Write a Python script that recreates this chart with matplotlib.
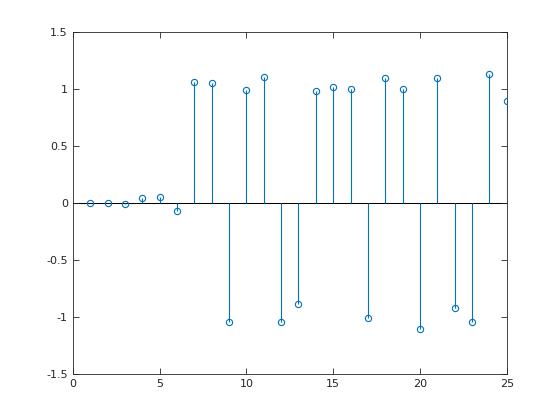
import matplotlib
matplotlib.use("Agg")
import matplotlib.pyplot as plt

n = list(range(1, 26))
values = [0.0, 0.0, -0.01, 0.04, 0.05, -0.07, 1.06, 1.05, -1.05, 0.99,
          1.10, -1.05, -0.89, 0.98, 1.01, 1.00, -1.01, 1.09, 1.00, -1.11,
          1.09, -0.92, -1.05, 1.13, 0.89]
xticks = [0, 5, 10, 15, 20, 25]
yticks = [-1.5, -1, -0.5, 0, 0.5, 1, 1.5]
ytick_labels = ["-1.5", "-1", "-0.5", "0", "0.5", "1", "1.5"]

color = "#0072BD"
fig = plt.figure(figsize=(5.6, 4.2), dpi=100)
ax = fig.add_axes([0.13, 0.11, 0.775, 0.815])

ax.axhline(0, color="black", lw=0.75, zorder=1)
ax.vlines(n, 0, values, color=color, lw=0.8, zorder=2)
ax.plot(n, values, linestyle="none", marker="o", markersize=4.5,
        markerfacecolor="none", markeredgecolor=color, markeredgewidth=0.8, zorder=3)

ax.set_xlim(0, 25)
ax.set_ylim(-1.5, 1.5)
ax.set_xticks(xticks)
ax.set_yticks(yticks)
ax.set_yticklabels(ytick_labels)
ax.tick_params(direction="in", length=4, width=0.6, labelsize=8, colors="#262626",
               top=True, right=True)
for s in ax.spines.values():
    s.set_linewidth(0.6)
    s.set_color("#262626")

fig.savefig("out.png", dpi=100)
